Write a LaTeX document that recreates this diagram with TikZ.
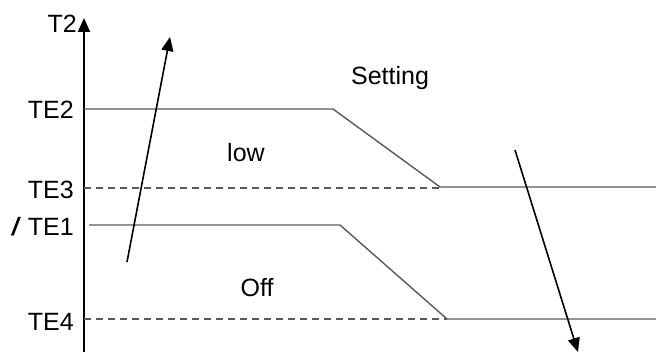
\documentclass[tikz,border=0pt]{standalone}
\usepackage{fontspec}
\setmainfont{Liberation Sans}
\usetikzlibrary{arrows.meta}
\begin{document}
\begin{tikzpicture}[x=1pt,y=-1pt,
  lbl/.style={font=\fontsize{25}{28}\selectfont, inner sep=0pt},
  ylbl/.style={lbl, anchor=east},
  level/.style={draw=black!65, line width=1.4pt},
  dashlevel/.style={draw=black!65, line width=1.4pt, dash pattern=on 7pt off 5pt},
  trend/.style={draw=black, line width=1.6pt, -{Triangle[length=14pt,width=12pt]}},
  axis/.style={draw=black, line width=1.8pt, -{Triangle[length=14pt,width=12pt]}}]
\useasboundingbox (0,0) rectangle (656,352);
% coordinates
\coordinate (o) at (84,353);
\coordinate (top) at (84,18);
\coordinate (a1) at (84,109);
\coordinate (a2) at (333,109);
\coordinate (a3) at (440,187);
\coordinate (a4) at (656,187);
\coordinate (d1) at (84,188);
\coordinate (d2) at (440,188);
\coordinate (b1) at (89,225);
\coordinate (b2) at (340,225);
\coordinate (b3) at (447,319);
\coordinate (b4) at (656,319);
\coordinate (e1) at (84,319);
\coordinate (e2) at (447,319);
\coordinate (u1) at (127,262);
\coordinate (u2) at (170,37);
\coordinate (v1) at (515,150);
\coordinate (v2) at (578,352);
% axis
\draw[axis] (o) -- (top);
% levels
\draw[level] (a1) -- (a2) -- (a3) -- (a4);
\draw[dashlevel] (d1) -- (d2);
\draw[level] (b1) -- (b2) -- (b3) -- (b4);
\draw[dashlevel] (e1) -- (e2);
% trend arrows
\draw[trend] (u1) -- (u2);
\draw[trend] (v1) -- (v2);
% labels
\node[ylbl] (t2) at (77,24) {T2};
\node[ylbl] (te2) at (74,110) {TE2};
\node[ylbl] (te3) at (74,190) {TE3};
\node[ylbl] (te1) at (74,227) {\textbf{\textit{/}} TE1};
\node[ylbl] (te4) at (74,322) {TE4};
\node[lbl] (setting) at (390,78) {Setting};
\node[lbl] (low) at (246,153) {low};
\node[lbl] (off) at (257,288) {Off};
\end{tikzpicture}
\end{document}
